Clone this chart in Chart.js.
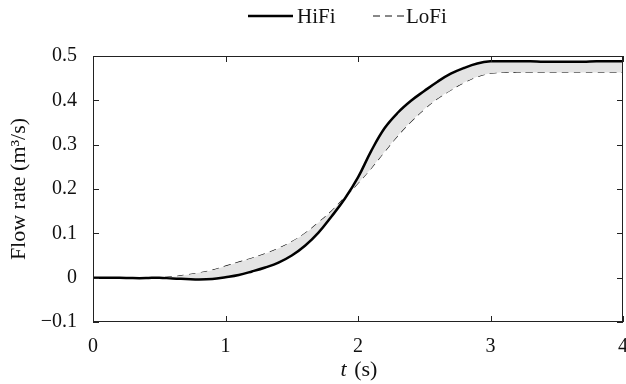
<!DOCTYPE html>
<html>
<head>
<meta charset="utf-8">
<script src="https://cdn.jsdelivr.net/npm/chart.js@4.4.0/dist/chart.umd.min.js"></script>
<style>
  html, body { margin: 0; padding: 0; background: #fff; }
  #wrap { width: 626px; height: 384px; position: relative; }
</style>
</head>
<body>
<div id="wrap"><canvas id="flowChart"></canvas></div>
<script>
// time samples (s)
const times = [0, 0.1, 0.2, 0.3, 0.4, 0.5, 0.6, 0.7, 0.8, 0.9,
  1.0, 1.1, 1.2, 1.3, 1.4, 1.5, 1.6, 1.7, 1.8, 1.9,
  2.0, 2.1, 2.2, 2.3, 2.4, 2.5, 2.6, 2.7, 2.8, 2.9,
  3.0, 3.1, 3.2, 3.3, 3.4, 3.5, 3.6, 3.7, 3.8, 3.9, 4.0];

// flow rate (m3/s)
const hifi = [0, 0, 0, -0.001, -0.001, 0, -0.002, -0.003, -0.004, -0.003,
  0.001, 0.006, 0.014, 0.023, 0.034, 0.05, 0.072, 0.101, 0.138, 0.178,
  0.226, 0.286, 0.337, 0.372, 0.399, 0.421, 0.442, 0.46, 0.473, 0.483,
  0.488, 0.488, 0.488, 0.488, 0.487, 0.487, 0.487, 0.487, 0.488, 0.488, 0.488];

const lofi = [0, 0, 0, 0, 0, 0, 0.002, 0.006, 0.011, 0.017,
  0.026, 0.035, 0.044, 0.054, 0.066, 0.081, 0.100, 0.124, 0.150, 0.181,
  0.213, 0.247, 0.284, 0.32, 0.352, 0.38, 0.404, 0.423, 0.44, 0.453,
  0.461, 0.463, 0.463, 0.463, 0.463, 0.463, 0.463, 0.463, 0.463, 0.463, 0.463];

const xTicks = [0, 1, 2, 3, 4];
const yTicks = [-0.1, 0, 0.1, 0.2, 0.3, 0.4, 0.5];

const serif = "'Liberation Serif', 'DejaVu Serif', serif";
Chart.defaults.font.family = serif;
Chart.defaults.color = '#111';

// box round the plot area, inward tick marks, x title with italic t, legend
const frame = {
  id: 'frame',
  afterDatasetsDraw(chart) {
    const {ctx, chartArea: a, scales} = chart;
    ctx.save();
    ctx.strokeStyle = '#222';
    ctx.lineWidth = 1;
    ctx.strokeRect(a.left + 0.5, a.top + 0.5, a.right - a.left - 1, a.bottom - a.top - 1);
    ctx.beginPath();
    xTicks.forEach(v => {
      const px = Math.round(scales.x.getPixelForValue(v)) + 0.5;
      ctx.moveTo(px, a.bottom); ctx.lineTo(px, a.bottom - 6);
      ctx.moveTo(px, a.top); ctx.lineTo(px, a.top + 6);
    });
    yTicks.forEach(v => {
      const py = Math.round(scales.y.getPixelForValue(v)) + 0.5;
      ctx.moveTo(a.left, py); ctx.lineTo(a.left + 6, py);
      ctx.moveTo(a.right, py); ctx.lineTo(a.right - 6, py);
    });
    ctx.stroke();

    // x axis title: t (s)
    ctx.fillStyle = '#111';
    ctx.textBaseline = 'middle';
    ctx.textAlign = 'left';
    const cx = (a.left + a.right) / 2;
    ctx.font = 'italic 22px ' + serif;
    const wt = ctx.measureText('t').width;
    ctx.font = '22px ' + serif;
    const ws = ctx.measureText(' (s)').width;
    const x0 = cx - (wt + ws) / 2;
    ctx.font = 'italic 22px ' + serif;
    ctx.fillText('t', x0, 370);
    ctx.font = '22px ' + serif;
    ctx.fillText(' (s)', x0 + wt + 2, 370);

    // legend
    const ly = 16;
    ctx.lineWidth = 2.5;
    ctx.strokeStyle = '#000';
    ctx.beginPath(); ctx.moveTo(248, ly); ctx.lineTo(293, ly); ctx.stroke();
    ctx.font = '21px ' + serif;
    ctx.fillText(chart.data.datasets[0].label, 297, ly + 1);
    ctx.lineWidth = 1;
    ctx.strokeStyle = '#111';
    ctx.setLineDash([7, 5]);
    ctx.beginPath(); ctx.moveTo(373, ly); ctx.lineTo(404, ly); ctx.stroke();
    ctx.setLineDash([]);
    ctx.fillText(chart.data.datasets[1].label, 406, ly + 1);
    ctx.restore();
  }
};

new Chart(document.getElementById('flowChart'), {
  type: 'line',
  data: {
    datasets: [{
      label: 'HiFi',
      data: times.map((t, i) => ({x: t, y: hifi[i]})),
      borderColor: '#000',
      borderWidth: 2.5,
      backgroundColor: '#e4e4e4',
      fill: '+1',
      pointRadius: 0,
      tension: 0.4
    }, {
      label: 'LoFi',
      data: times.map((t, i) => ({x: t, y: lofi[i]})),
      borderColor: '#111',
      borderWidth: 1.1,
      borderDash: [7, 5],
      backgroundColor: '#e4e4e4',
      fill: false,
      pointRadius: 0,
      tension: 0.4
    }]
  },
  options: {
    responsive: true,
    maintainAspectRatio: false,
    animation: false,
    layout: { padding: { top: 56, right: 3, left: 0, bottom: 0 } },
    plugins: {
      legend: { display: false },
      tooltip: { enabled: false }
    },
    scales: {
      x: {
        type: 'linear',
        min: 0, max: 4,
        afterBuildTicks: s => { s.ticks = xTicks.map(v => ({value: v})); },
        grid: { display: false },
        border: { display: false },
        ticks: { font: { size: 20 }, color: '#111', padding: 5, maxRotation: 0 },
        afterFit: s => { s.height = 62; s.paddingLeft = 0; s.paddingRight = 0; }
      },
      y: {
        min: -0.1, max: 0.5,
        afterBuildTicks: s => { s.ticks = yTicks.map(v => ({value: v})); },
        grid: { display: false },
        border: { display: false },
        ticks: {
          font: { size: 20 }, color: '#111', padding: 8,
          callback: v => String(Math.round(v * 10) / 10).replace('-', '\u2212')
        },
        title: { display: true, text: 'Flow rate (m\u00b3/s)', font: { size: 22 }, color: '#111', padding: { top: 6, bottom: 0 } },
        afterFit: s => { s.width = 93; s.paddingTop = 0; s.paddingBottom = 0; }
      }
    }
  },
  plugins: [frame]
});
</script>
</body>
</html>
